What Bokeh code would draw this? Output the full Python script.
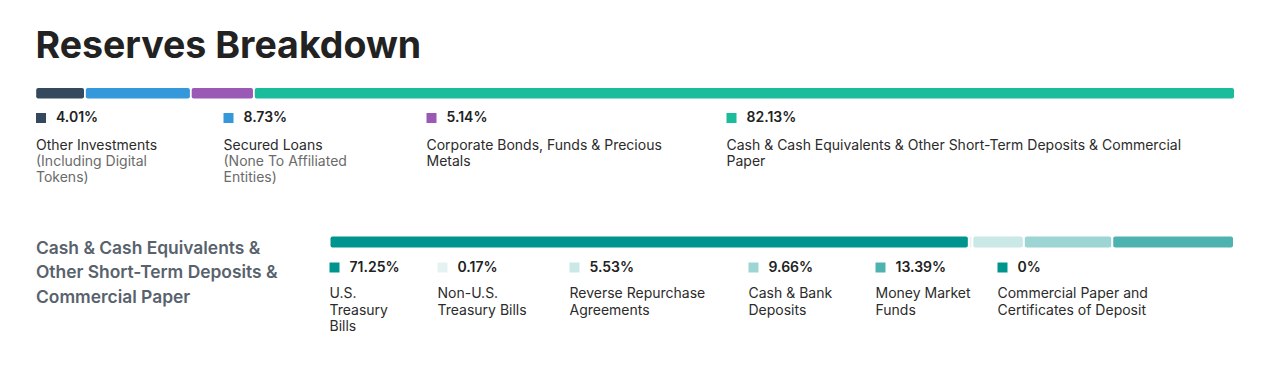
from bokeh.plotting import figure
from bokeh.models import Range1d, ColumnDataSource
from bokeh.core.properties import value
from bokeh.embed import file_html
from bokeh.resources import INLINE

# ---------------- data ----------------
title = "Reserves Breakdown"

top_pct = [4.01, 8.73, 5.14, 82.13]
top_names = [
    ["Other Investments"],
    ["Secured Loans"],
    ["Corporate Bonds, Funds & Precious", "Metals"],
    ["Cash & Cash Equivalents & Other Short-Term Deposits & Commercial", "Paper"],
]
top_notes = [
    ["(Including Digital", "Tokens)"],
    ["(None To Affiliated", "Entities)"],
    [],
    [],
]
top_colors = ["#34495e", "#3498db", "#9b59b6", "#1abc9c"]

sub_heading = ["Cash & Cash Equivalents &", "Other Short-Term Deposits &", "Commercial Paper"]
sub_pct = [71.25, 0.17, 5.53, 9.66, 13.39, 0]
sub_names = [
    ["U.S.", "Treasury", "Bills"],
    ["Non-U.S.", "Treasury Bills"],
    ["Reverse Repurchase", "Agreements"],
    ["Cash & Bank", "Deposits"],
    ["Money Market", "Funds"],
    ["Commercial Paper and", "Certificates of Deposit"],
]
sub_colors = ["#00948f", "#e4f3f2", "#c9e8e6", "#9cd5d3", "#4eb3b0", "#00948f"]

# ---------------- layout (pixels in page coordinates) ----------------
W, H = 1257, 362
FONT = value("Inter")
SEMI = value("'Inter SemiBold', 'Inter Semi Bold', Inter")
SHIFT = 0.4  # baseline correction, in em

p = figure(width=W, height=H, output_backend="svg", toolbar_location=None,
           x_range=Range1d(0, W), y_range=Range1d(H, 0),
           min_border=0, min_border_left=0, min_border_right=0,
           min_border_top=0, min_border_bottom=0)
p.axis.visible = False
p.xgrid.visible = False
p.ygrid.visible = False
p.outline_line_color = None
p.background_fill_color = "white"
p.border_fill_color = "white"


def B(y, size):
    return y - SHIFT * size


def stacked_bar(pcts, colors, x0, x1, y0, y1, gap):
    items = [(v, c) for v, c in zip(pcts, colors) if v > 0]
    n = len(items)
    usable = (x1 - x0) - gap * (n - 1)
    total = sum(v for v, _ in items)
    lefts, rights, cols = [], [], []
    cur = x0
    for v, c in items:
        w = usable * v / total
        lefts.append(cur)
        rights.append(cur + w)
        cols.append(c)
        cur += w + gap
    src = ColumnDataSource(dict(left=lefts, right=rights, top=[y0] * n,
                                bottom=[y1] * n, color=cols))
    p.quad(left="left", right="right", top="top", bottom="bottom", color="color",
           line_color=None, border_radius=2, source=src)


def legend(pcts, colors, xs, sq_top, pct_base, label_base, line_h, names, notes=None):
    sq = 10
    fs = 14
    src = ColumnDataSource(dict(
        left=list(xs), right=[x + sq for x in xs],
        top=[sq_top] * len(xs), bottom=[sq_top + sq] * len(xs),
        color=colors))
    p.quad(left="left", right="right", top="top", bottom="bottom", color="color",
           line_color=None, source=src)
    p.text(x=[x + 20 for x in xs], y=[B(pct_base, fs)] * len(xs),
           text=[f"{v:g}%" for v in pcts], text_font=SEMI, text_font_size=f"{fs}px",
           text_color="#222222", text_baseline="alphabetic")
    lx, ly, lt, nx, ny, nt = [], [], [], [], [], []
    for i, x in enumerate(xs):
        row = 0
        for line in names[i]:
            lx.append(x); ly.append(B(label_base + row * line_h, fs)); lt.append(line)
            row += 1
        if notes:
            for line in notes[i]:
                nx.append(x); ny.append(B(label_base + row * line_h, fs)); nt.append(line)
                row += 1
    p.text(x=lx, y=ly, text=lt, text_font=FONT, text_font_size=f"{fs}px",
           text_color="#2b2b2b", text_baseline="alphabetic")
    if nt:
        p.text(x=nx, y=ny, text=nt, text_font=FONT, text_font_size=f"{fs}px",
               text_color="#6b6b6b", text_baseline="alphabetic")


# title
p.text(x=[35], y=[B(58.5, 37.5)], text=[title], text_font=FONT, text_font_size="37.5px",
       text_font_style="bold", text_color="#222222", text_baseline="alphabetic")

# top section
stacked_bar(top_pct, top_colors, 35.7, 1233.5, 87.5, 98, 1.8)
legend(top_pct, top_colors, [35.5, 223, 426, 726], 112.5, 122, 150, 16,
       top_names, top_notes)

# sub section heading
p.text(x=[35.5] * 3, y=[B(253.5 + 24.5 * i, 17.4) for i in range(3)], text=sub_heading,
       text_font=SEMI, text_font_size="17.4px",
       text_color="#58626d", text_baseline="alphabetic")

stacked_bar(sub_pct, sub_colors, 330, 1232.5, 236, 247, 2)
legend(sub_pct, sub_colors, [329, 437, 569, 748, 875, 997], 262, 271.5, 298, 16.5,
       sub_names)

open("out.html", "w").write(file_html(p, INLINE))
